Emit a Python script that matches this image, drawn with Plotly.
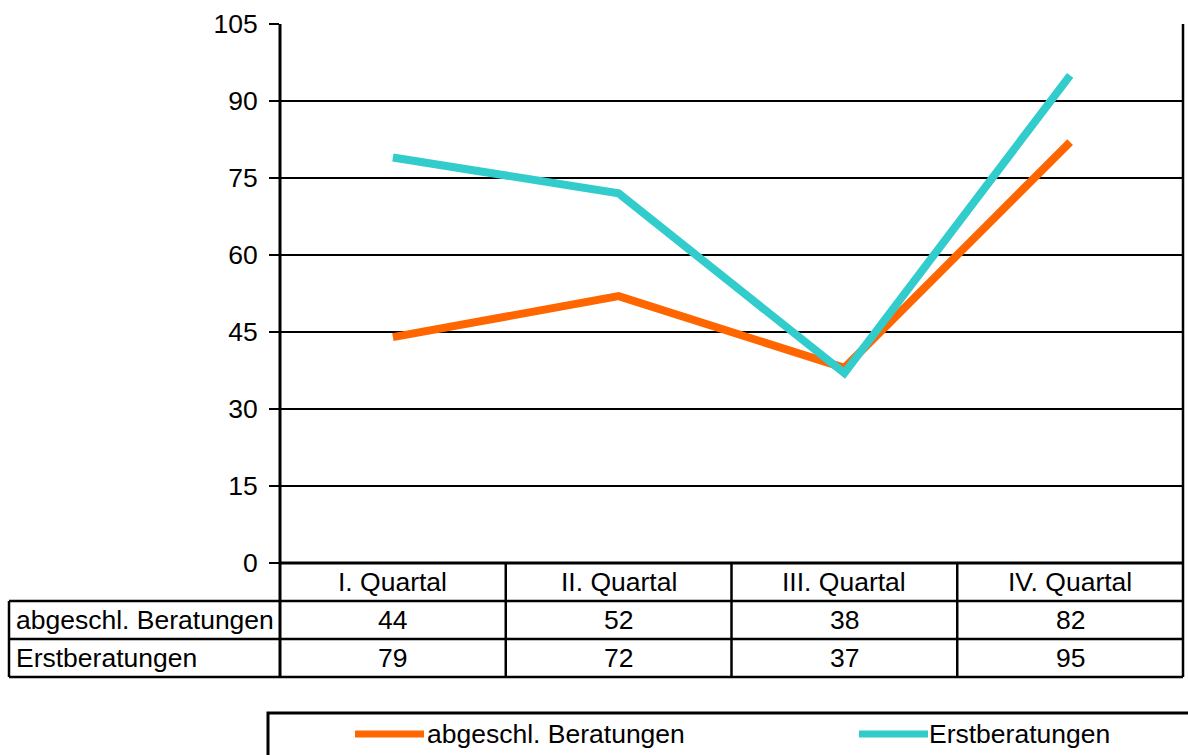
import plotly.graph_objects as go

# Quarterly counseling figures
quarters = ["I. Quartal", "II. Quartal", "III. Quartal", "IV. Quartal"]
abgeschl = [44, 52, 38, 82]
erst = [79, 72, 37, 95]
series_names = ["abgeschl. Beratungen", "Erstberatungen"]
y_ticks = [0, 15, 30, 45, 60, 75, 90, 105]

ORANGE = "#FF6600"
CYAN = "#33CCCC"
FONT = "Liberation Sans, Arial, sans-serif"
FS = 26.5

W, H = 1188, 755
L, R, T, B = 280, 5, 24, 192
PW, PH = W - L - R, H - T - B


def xp(px):
    return (px - L) / PW


def yp(py):
    return (T + PH - py) / PH


fig = go.Figure()
x_idx = list(range(len(quarters)))
fig.add_trace(go.Scatter(x=x_idx, y=abgeschl, mode="lines", name=series_names[0],
                         line=dict(color=ORANGE, width=8), showlegend=False))
fig.add_trace(go.Scatter(x=x_idx, y=erst, mode="lines", name=series_names[1],
                         line=dict(color=CYAN, width=8), showlegend=False))

shapes = []
annotations = []


def hline(x0, x1, y, w=2.5):
    shapes.append(dict(type="line", xref="paper", yref="paper", x0=x0, x1=x1, y0=y, y1=y,
                       line=dict(color="black", width=w), layer="above"))


def vline(x, y0, y1, w=2.5):
    shapes.append(dict(type="line", xref="paper", yref="paper", x0=x, x1=x, y0=y0, y1=y1,
                       line=dict(color="black", width=w), layer="above"))


# data table below the plot
row_tops = [563, 601, 639, 677]
table_left = xp(9)
for py in row_tops[1:]:
    hline(table_left, 1, yp(py))
vline(table_left, yp(601), yp(677))
vline(0, 1, yp(677), w=3)
vline(1, 1, yp(677))
n = len(quarters)
for i in range(1, n):
    vline(i / n, 0, yp(677))
hline(0, 1, 0, w=3)

row_centers = [(row_tops[k] + row_tops[k + 1]) / 2 for k in range(3)]
for i, q in enumerate(quarters):
    annotations.append(dict(x=i, y=yp(row_centers[0]), xref="x", yref="paper", text=q,
                            showarrow=False, xanchor="center", yanchor="middle",
                            font=dict(size=FS, color="black", family=FONT)))
    for k, vals in enumerate([abgeschl, erst]):
        annotations.append(dict(x=i, y=yp(row_centers[k + 1]), xref="x", yref="paper",
                                text=str(vals[i]), showarrow=False, xanchor="center",
                                yanchor="middle", font=dict(size=FS, color="black", family=FONT)))
for k, name in enumerate(series_names):
    annotations.append(dict(x=xp(14), y=yp(row_centers[k + 1]), xref="paper", yref="paper",
                            text=name, showarrow=False, xanchor="left", yanchor="middle",
                            font=dict(size=FS, color="black", family=FONT)))

# legend box
shapes.append(dict(type="rect", xref="paper", yref="paper", x0=xp(268), x1=xp(1200),
                   y0=yp(713), y1=yp(770), line=dict(color="black", width=3), layer="above"))
for (x0, x1, tx), name, col in zip([(355, 424, 425), (859, 928, 927)], series_names, [ORANGE, CYAN]):
    shapes.append(dict(type="line", xref="paper", yref="paper", x0=xp(x0), x1=xp(x1),
                       y0=yp(734), y1=yp(734), line=dict(color=col, width=7)))
    annotations.append(dict(x=xp(tx), y=yp(734), xref="paper", yref="paper", text=name,
                            showarrow=False, xanchor="left", yanchor="middle",
                            font=dict(size=FS, color="black", family=FONT)))

fig.update_layout(
    width=W, height=H,
    margin=dict(l=L, r=R, t=T, b=B, pad=0),
    paper_bgcolor="white", plot_bgcolor="white",
    shapes=shapes, annotations=annotations,
    xaxis=dict(range=[-0.5, n - 0.5], showticklabels=False, showgrid=False,
               zeroline=False, showline=False, ticks=""),
    yaxis=dict(range=[0, 105], tickvals=y_ticks, ticktext=[str(v) for v in y_ticks],
               showgrid=True, gridcolor="black", gridwidth=2, zeroline=False,
               showline=False, ticks="outside", ticklen=10, tickwidth=2, tickcolor="black",
               ticklabelstandoff=6,
               tickfont=dict(size=FS, color="black", family=FONT)),
    font=dict(family=FONT, size=FS, color="black"),
)

fig.write_html("out.html")
